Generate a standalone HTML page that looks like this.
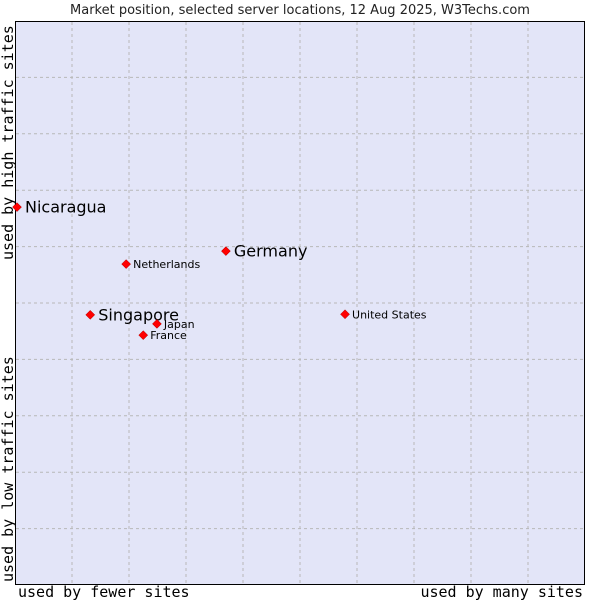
<!DOCTYPE html>
<html><head><meta charset="utf-8"><style>
body{margin:0;background:#fff;width:600px;height:600px;overflow:hidden}
svg text{font-family:"DejaVu Sans","Liberation Sans",sans-serif}
.ax{font-family:"DejaVu Sans Mono","Liberation Mono",monospace!important;font-size:15px}
</style></head><body>
<svg id="c" width="600" height="600">
<text x="300" y="14" text-anchor="middle" font-size="13" fill="#222">Market position, selected server locations, 12 Aug 2025, W3Techs.com</text>
<rect x="15.5" y="21.5" width="569" height="563" fill="#e3e5f8" stroke="#000" stroke-width="1"/>
<g id="grid"></g>
<g id="pts"></g>
<text class="ax" x="18" y="597">used by fewer sites</text>
<text class="ax" x="583" y="597" text-anchor="end">used by many sites</text>
<text class="ax" transform="translate(13,260) rotate(-90)">used by high traffic sites</text>
<text class="ax" transform="translate(13,582) rotate(-90)">used by low traffic sites</text>
</svg>
<script>
const names=["Nicaragua","Germany","Netherlands","Singapore","Japan","France","United States"];
const xs=[0.35,37.0,19.5,13.2,24.9,22.5,57.9];
const ys=[67.0,59.2,56.9,47.9,46.3,44.3,48.0];
const big=[true,true,false,true,false,false,false];
const X=v=>15+v*5.7, Y=v=>585-v*5.64;
const NS="http://www.w3.org/2000/svg";
const g=document.getElementById('grid'), p=document.getElementById('pts');
for(let i=1;i<10;i++){
  const v=document.createElementNS(NS,'line');
  
  
  v.setAttribute('x1',X(i*10));v.setAttribute('x2',X(i*10));v.setAttribute('y1',22);v.setAttribute('y2',584);
  v.setAttribute('stroke','#b8b8b8');v.setAttribute('stroke-dasharray','3,3');g.appendChild(v);
  const h=document.createElementNS(NS,'line');
  
  
  h.setAttribute('y1',Y(i*10));h.setAttribute('y2',Y(i*10));h.setAttribute('x1',16);h.setAttribute('x2',584);
  h.setAttribute('stroke','#b8b8b8');h.setAttribute('stroke-dasharray','3,3');g.appendChild(h);
}
names.forEach((n,i)=>{
  const x=X(xs[i]),y=Y(ys[i]);
  const d=document.createElementNS(NS,'polygon');
  
  
  d.setAttribute('points',`${x},${y-4.5} ${x+4.5},${y} ${x},${y+4.5} ${x-4.5},${y}`);
  d.setAttribute('fill','#f00');d.setAttribute('stroke','#a00');d.setAttribute('stroke-width','0.5');p.appendChild(d);
  const t=document.createElementNS(NS,'text');
  
  
  t.setAttribute('x',x+(big[i]?8:7));t.setAttribute('y',y+(big[i]?5.5:4));
  t.setAttribute('font-size',big[i]?16:11);t.setAttribute('fill','#000');
  t.textContent=n;p.appendChild(t);
});
</script>
</body></html>
